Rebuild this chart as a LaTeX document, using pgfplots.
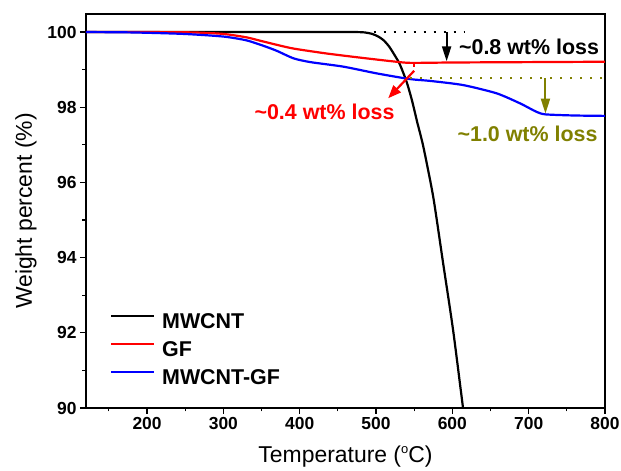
\documentclass[border=0pt]{standalone}
\usepackage{fontspec}
\setmainfont{Liberation Sans}
\usepackage{pgfplots}
\pgfplotsset{compat=1.18}
\usetikzlibrary{arrows.meta}
\definecolor{oliveA}{RGB}{128,128,0}
\definecolor{pureRed}{RGB}{255,0,0}
\definecolor{pureBlue}{RGB}{0,0,255}
\newcommand{\annfont}{\fontsize{21.5}{24}\selectfont\bfseries}
\begin{document}
\begin{tikzpicture}
\begin{axis}[
  scale only axis, width=519bp, height=394bp,
  xmin=120, xmax=800, ymin=90, ymax=100.48,
  xtick={200,300,...,800}, minor xtick={150,250,...,750},
  ytick={90,92,...,100}, minor ytick={91,93,...,99},
  xtick pos=bottom, ytick pos=left, tick align=outside,
  major tick length=6bp, minor tick length=3.5bp,
  every tick/.style={black, line width=1.2bp},
  axis line style={line width=1.3bp},
  /pgf/number format/assume math mode=true,
  ticklabel style={font=\fontsize{17.5}{20}\selectfont\bfseries},
  xlabel={Temperature (\raisebox{0.75ex}{\fontsize{13}{13}\selectfont o}C)},
  ylabel={Weight percent (\%)},
  label style={font=\fontsize{23}{26}\selectfont},
  xlabel style={at={(axis description cs:0.5,-0.1244)}, anchor=center},
  ylabel style={at={(axis description cs:-0.1156,0.5)}, anchor=center},
  legend style={draw=none, fill=none, at={(axis description cs:0.0462,0.2424)}, anchor=north west,
    inner sep=0pt, outer sep=0pt, column sep=7bp, row sep=7bp,
    font=\annfont, nodes={inner sep=0pt, text height=16bp, text depth=5bp}},
  legend cell align=left,
  legend image code/.code={\draw[#1] (0bp,7bp) -- (43bp,7bp);},
]
\addplot[black, line width=2.2bp, smooth, tension=0.4] coordinates {
 (120,100) (200,100) (300,100) (400,100) (470,100) (485,99.99) (495,99.95) (503,99.88)
 (510,99.78) (517,99.62) (523,99.43) (531,99.15) (540,98.68) (547,98.19) (554,97.6)
 (562,96.95) (575,95.61) (588,93.84) (601,92.07) (614,90.0) (616,89.7)};
\addlegendentry{MWCNT}
\addplot[pureRed, line width=2.2bp, smooth, tension=0.4] coordinates {
 (120,100) (200,100) (260,99.99) (300,99.95) (330,99.86) (348,99.77) (370,99.66)
 (392,99.56) (435,99.43) (479,99.32) (522,99.22) (545,99.18) (600,99.19) (700,99.2) (800,99.21)};
\addlegendentry{GF}
\addplot[pureBlue, line width=2.2bp, smooth, tension=0.4] coordinates {
 (120,100) (180,99.99) (248,99.95) (300,99.88) (330,99.78) (353,99.63) (370,99.5)
 (392,99.3) (414,99.2) (457,99.08) (501,98.9) (544,98.75) (571,98.7) (614,98.59)
 (658,98.37) (689,98.1) (710,97.88) (722,97.81) (760,97.78) (800,97.77)};
\addlegendentry{MWCNT-GF}
% annotations
\draw[black, line width=2bp, dash pattern=on 2bp off 8bp] (axis cs:497,100) -- (axis cs:615,100);
\draw[black, line width=2bp, -{Triangle[length=15bp,width=9bp]}] (axis cs:592.5,100) -- (axis cs:592.5,99.22);
\node[black, font=\annfont, anchor=center] at (axis cs:700.5,99.61) {\textasciitilde 0.8 wt\% loss};
\draw[oliveA, line width=2bp, dash pattern=on 2bp off 8bp] (axis cs:545,98.78) -- (axis cs:800,98.78);
\draw[oliveA, line width=2bp, -{Triangle[length=15bp,width=9bp]}] (axis cs:722,98.78) -- (axis cs:722,97.83);
\node[oliveA, font=\annfont, anchor=center] at (axis cs:698.5,97.28) {\textasciitilde 1.0 wt\% loss};
\draw[pureRed, line width=1.8bp] (axis cs:550,99.18) -- (axis cs:550,99.08);
\draw[pureRed, line width=2.2bp, -{Triangle[length=13bp,width=10bp]}] (axis cs:550,98.97) -- (axis cs:516,98.24);
\node[pureRed, font=\annfont, anchor=center] at (axis cs:432.5,97.88) {\textasciitilde 0.4 wt\% loss};
\end{axis}
\pgfresetboundingbox
\path (-86bp,-63bp) rectangle (535bp,408bp);
\end{tikzpicture}
\end{document}
